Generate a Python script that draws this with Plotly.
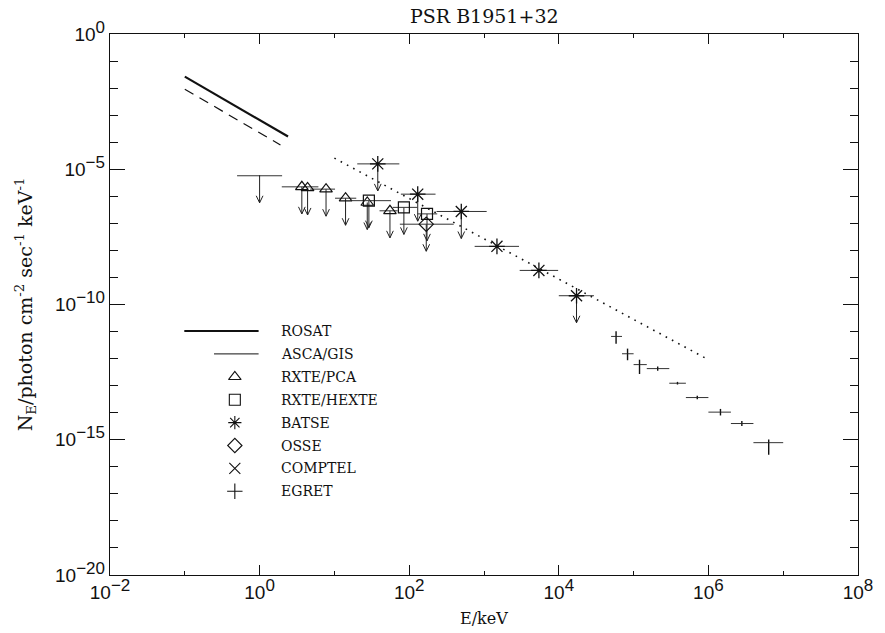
import numpy as np
import plotly.graph_objects as go

# ---------------- data (E in keV, N in photon cm^-2 s^-1 keV^-1) ----------------
rosat_E = [0.1, 2.4]
rosat_N = [2.65e-2, 1.62e-4]
rosat_alt_E = [0.1, 1.9]
rosat_alt_N = [9.1e-3, 7.9e-5]

asca_E = [1.0]
asca_lo = [0.5]
asca_hi = [2.0]
asca_N = [5.75e-6]

pca_E = [3.67, 4.38, 7.73, 14.1, 27.5, 55.3]
pca_lo = [1.98, 4.38, 4.74, 10.2, 27.5, 40.1]
pca_hi = [6.11, 4.38, 10.2, 19.6, 27.5, 70.0]
pca_N = [2.24e-6, 2.04e-6, 1.84e-6, 8.5e-7, 5.9e-7, 2.91e-7]

hexte_E = [28.9, 84.9, 173.0]
hexte_lo = [16.9, 60.3, 129.0]
hexte_hi = [57.0, 129.0, 237.0]
hexte_N = [6.9e-7, 3.9e-7, 2.24e-7]

osse_E = [169.0]
osse_lo = [75.0]
osse_hi = [394.0]
osse_N = [9.3e-8]

batse_E = [38.0, 130.0, 497.0]
batse_lo = [20.2, 77.4, 232.0]
batse_hi = [73.8, 225.0, 1086.0]
batse_N = [1.58e-5, 1.2e-6, 2.75e-7]

comptel_E = [1490.0, 5420.0, 17260.0]
comptel_lo = [750.0, 3000.0, 10000.0]
comptel_hi = [2940.0, 9800.0, 29500.0]
comptel_N = [1.41e-8, 1.82e-9, 2.11e-10]
comptel_ul = [False, False, True]

egret_E = [5.83e4, 8.3e4, 1.2e5, 2.1e5, 3.86e5, 7.1e5, 1.45e6, 2.8e6, 6.4e6]
egret_lo = [5e4, 7e4, 1e5, 1.5e5, 3e5, 5e5, 1e6, 2e6, 4e6]
egret_hi = [7e4, 1e5, 1.5e5, 3e5, 5e5, 1e6, 2e6, 4e6, 1e7]
egret_N = [6.6e-12, 1.51e-12, 6.0e-13, 4.27e-13, 1.23e-13, 3.63e-14, 1.05e-14, 3.98e-15, 7.8e-16]
egret_Nhi = [1.02e-11, 2.34e-12, 9.1e-13, 5.1e-13, 1.38e-13, 4.2e-14, 1.38e-14, 4.9e-15, 1.02e-15]
egret_Nlo = [3.55e-12, 8.7e-13, 2.7e-13, 3.55e-13, 1.1e-13, 3.16e-14, 7.9e-15, 3.24e-15, 2.8e-16]

model_E = [10.0, 1e6]
model_N = [2.57e-5, 9.1e-13]

legend_labels = ["ROSAT", "ASCA/GIS", "RXTE/PCA", "RXTE/HEXTE", "BATSE", "OSSE", "COMPTEL", "EGRET"]
legend_symbols = [None, None, "triangle-up-open", "square-open", "asterisk-open",
                  "diamond-open", "x-thin-open", "cross-thin-open"]

SUP = '<sup><span style="font-size:17px">{}</span></sup>'
x_ticks = [1e-2, 1e0, 1e2, 1e4, 1e6, 1e8]
x_ticktext = ["10" + SUP.format(s) for s in ["\u22122", "0", "2", "4", "6", "8"]]
y_ticks = [1e0, 1e-5, 1e-10, 1e-15, 1e-20]
y_ticktext = ["10" + SUP.format(s) for s in ["0", "\u22125", "\u221210", "\u221215", "\u221220"]]

# ---------------- layout constants ----------------
W, H = 885, 633
ML, MR, MT, MB = 110, 20, 34, 58
PW, PH = W - ML - MR, H - MT - MB
SERIF = "DejaVu Serif, Liberation Serif, serif"
SANS = "Liberation Sans, Arial, sans-serif"
INK = "#111"


def px_to_paper_x(px):
    return (px - ML) / PW


def px_to_paper_y(py):
    return 1 - (py - MT) / PH


def errx(E, lo, hi):
    E, lo, hi = map(np.asarray, (E, lo, hi))
    return dict(type="data", array=hi - E, arrayminus=E - lo, symmetric=False,
                thickness=1, width=0, color="#333")


def ul_path(E, N):
    """Downward arrows (one decade long) for upper limits."""
    xs, ys = [], []
    hx, hy = 10 ** 0.045, 10 ** 0.26
    for e, n in zip(E, N):
        tip = n / 10.0
        xs += [e, e, None, e / hx, e, e * hx, None]
        ys += [n, tip, None, tip * hy, tip, tip * hy, None]
    return xs, ys


fig = go.Figure()

# ROSAT power laws
fig.add_trace(go.Scatter(x=rosat_E, y=rosat_N, mode="lines", name="ROSAT",
                         line=dict(color=INK, width=2.2)))
fig.add_trace(go.Scatter(x=rosat_alt_E, y=rosat_alt_N, mode="lines", name="ROSAT (alt.)",
                         line=dict(color=INK, width=1.2, dash="10px,7px")))
# model extrapolation
fig.add_trace(go.Scatter(x=model_E, y=model_N, mode="lines", name="model",
                         line=dict(color=INK, width=1.6, dash="1.6px,5.5px")))

# upper-limit arrows
ul_E = (asca_E + pca_E + hexte_E + osse_E + batse_E +
        [e for e, u in zip(comptel_E, comptel_ul) if u])
ul_N = (asca_N + pca_N + hexte_N + osse_N + batse_N +
        [n for n, u in zip(comptel_N, comptel_ul) if u])
ax_, ay_ = ul_path(ul_E, ul_N)
fig.add_trace(go.Scatter(x=ax_, y=ay_, mode="lines", name="upper limits",
                         line=dict(color="#222", width=1), hoverinfo="skip"))

# ASCA/GIS upper limit (horizontal bar only)
fig.add_trace(go.Scatter(x=asca_E, y=asca_N, mode="markers", name="ASCA/GIS",
                         marker=dict(size=1, color=INK), error_x=errx(asca_E, asca_lo, asca_hi)))

mk_line = dict(color=INK, width=1.2)
fig.add_trace(go.Scatter(x=pca_E, y=pca_N, mode="markers", name="RXTE/PCA",
                         marker=dict(symbol="triangle-up-open", size=11, color=INK, line=mk_line),
                         error_x=errx(pca_E, pca_lo, pca_hi)))
fig.add_trace(go.Scatter(x=hexte_E, y=hexte_N, mode="markers", name="RXTE/HEXTE",
                         marker=dict(symbol="square-open", size=11, color=INK, line=mk_line),
                         error_x=errx(hexte_E, hexte_lo, hexte_hi)))
fig.add_trace(go.Scatter(x=osse_E, y=osse_N, mode="markers", name="OSSE",
                         marker=dict(symbol="diamond-open", size=11, color=INK, line=mk_line),
                         error_x=errx(osse_E, osse_lo, osse_hi)))
fig.add_trace(go.Scatter(x=batse_E, y=batse_N, mode="markers", name="BATSE",
                         marker=dict(symbol="asterisk-open", size=13, color=INK,
                                     line=dict(color=INK, width=1.3)),
                         error_x=errx(batse_E, batse_lo, batse_hi)))
fig.add_trace(go.Scatter(x=comptel_E, y=comptel_N, mode="markers", name="COMPTEL",
                         marker=dict(symbol="asterisk-open", size=13, color=INK,
                                     line=dict(color=INK, width=1.3)),
                         error_x=errx(comptel_E, comptel_lo, comptel_hi)))
egN = np.asarray(egret_N)
fig.add_trace(go.Scatter(x=egret_E, y=egret_N, mode="markers", name="EGRET",
                         marker=dict(size=1, color=INK),
                         error_x=errx(egret_E, egret_lo, egret_hi),
                         error_y=dict(type="data", symmetric=False,
                                      array=np.asarray(egret_Nhi) - egN,
                                      arrayminus=egN - np.asarray(egret_Nlo),
                                      thickness=1.4, width=0, color=INK)))

# ---------------- legend (drawn inside the frame) ----------------
leg_y0, leg_dy = 331, 22.9
leg_text_x, leg_sym_x = 281, 236
for i, (lab, sym) in enumerate(zip(legend_labels, legend_symbols)):
    py = leg_y0 + i * leg_dy
    fig.add_annotation(x=px_to_paper_x(leg_text_x), y=px_to_paper_y(py), xref="paper", yref="paper",
                       text=lab, showarrow=False, xanchor="left", yanchor="middle",
                       font=dict(family=SERIF, size=14, color=INK))
    if sym is not None:
        fig.add_trace(go.Scatter(x=[px_to_paper_x(leg_sym_x)], y=[px_to_paper_y(py)],
                                 xaxis="x2", yaxis="y2", mode="markers", hoverinfo="skip",
                                 marker=dict(symbol=sym, size=11, color=INK,
                                             line=dict(color=INK, width=1.1))))
fig.add_shape(type="line", xref="paper", yref="paper",
              x0=px_to_paper_x(185), x1=px_to_paper_x(260),
              y0=px_to_paper_y(leg_y0), y1=px_to_paper_y(leg_y0),
              line=dict(color=INK, width=2.2))
fig.add_shape(type="line", xref="paper", yref="paper",
              x0=px_to_paper_x(215), x1=px_to_paper_x(260),
              y0=px_to_paper_y(leg_y0 + leg_dy), y1=px_to_paper_y(leg_y0 + leg_dy),
              line=dict(color=INK, width=1))

# ---------------- titles ----------------
fig.add_annotation(x=0.5, y=px_to_paper_y(16), xref="paper", yref="paper",
                   text="PSR B1951+32", showarrow=False, yanchor="middle",
                   font=dict(family=SERIF, size=19, color=INK))
fig.add_annotation(x=0.5, y=px_to_paper_y(618), xref="paper", yref="paper",
                   text="E/keV", showarrow=False, yanchor="middle",
                   font=dict(family=SERIF, size=16, color=INK))
fig.add_annotation(x=px_to_paper_x(25), y=0.5, xref="paper", yref="paper", textangle=-90,
                   text="N<sub>E</sub>/photon cm<sup>-2</sup> sec<sup>-1</sup> keV<sup>-1</sup>",
                   showarrow=False, xanchor="center", yanchor="middle",
                   font=dict(family=SERIF, size=19, color=INK))

axis_common = dict(type="log", showline=True, linecolor=INK, linewidth=1.4, mirror="ticks",
                   ticks="inside", tickcolor=INK, tickwidth=1, showgrid=False, zeroline=False,
                   tickfont=dict(family=SANS, size=19, color=INK))
fig.update_layout(
    width=W, height=H, margin=dict(l=ML, r=MR, t=MT, b=MB),
    paper_bgcolor="white", plot_bgcolor="white", showlegend=False,
    xaxis=dict(axis_common, range=[-2, 8], tickmode="array", tickvals=x_ticks,
               ticktext=x_ticktext, ticklen=10,
               minor=dict(tickmode="array", tickvals=[10.0 ** k for k in range(-1, 8, 2)],
                          ticklen=4, tickcolor=INK, tickwidth=1, ticks="inside")),
    yaxis=dict(axis_common, range=[-20, 0], tickmode="array", tickvals=y_ticks,
               ticktext=y_ticktext, ticklen=15,
               minor=dict(tickmode="array", tickvals=[10.0 ** -k for k in range(1, 20) if k % 5],
                          ticklen=8, tickcolor=INK, tickwidth=1, ticks="inside")),
    xaxis2=dict(overlaying="x", range=[0, 1], visible=False, anchor="y2", showticklabels=False),
    yaxis2=dict(overlaying="y", range=[0, 1], visible=False, anchor="x2", showticklabels=False),
)

fig.write_html("out.html", config={"displayModeBar": False},
               post_script="document.body.style.margin='0';document.body.style.overflow='hidden';")
